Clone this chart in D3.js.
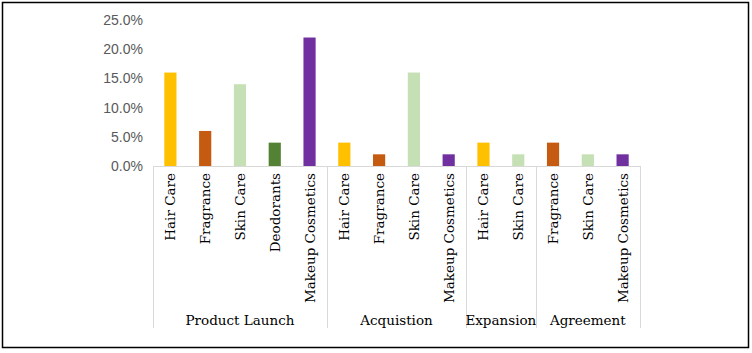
<!DOCTYPE html>
<html>
<head>
<meta charset="utf-8">
<script src="https://cdn.jsdelivr.net/npm/d3@7"></script>
<style>
  html, body { margin: 0; padding: 0; background: #fff; }
  #chart { width: 752px; height: 353px; }
</style>
</head>
<body>
<div id="chart"></div>
<script>
const groups = ["Product Launch", "Acquistion", "Expansion", "Agreement"];
const groupCategories = [
  ["Hair Care", "Fragrance", "Skin Care", "Deodorants", "Makeup Cosmetics"],
  ["Hair Care", "Fragrance", "Skin Care", "Makeup Cosmetics"],
  ["Hair Care", "Skin Care"],
  ["Fragrance", "Skin Care", "Makeup Cosmetics"]
];
const groupValues = [
  [0.16, 0.06, 0.14, 0.04, 0.22],
  [0.04, 0.02, 0.16, 0.02],
  [0.04, 0.02],
  [0.04, 0.02, 0.02]
];
const yTicks = [0, 0.05, 0.10, 0.15, 0.20, 0.25];

const categoryColors = {
  "Hair Care": "#FFC000",
  "Fragrance": "#C55A11",
  "Skin Care": "#C5E0B4",
  "Deodorants": "#548235",
  "Makeup Cosmetics": "#7030A0"
};

function draw() {
  const W = 752, H = 353;
  const svg = d3.select("#chart").append("svg")
    .attr("width", W).attr("height", H);

  // outer frame
  svg.append("rect")
    .attr("x", 2.5).attr("y", 2.5)
    .attr("width", 746).attr("height", 345)
    .attr("fill", "none").attr("stroke", "#000").attr("stroke-width", 1.5);

  // flatten into rows
  const rows = [];
  groups.forEach((g, gi) => {
    groupCategories[gi].forEach((c, ci) => {
      rows.push({ key: g + "|" + c, group: g, gi, cat: c, value: groupValues[gi][ci] });
    });
  });

  const x = d3.scaleBand()
    .domain(rows.map(d => d.key))
    .range([153, 640])
    .paddingInner(0.65)
    .paddingOuter(0.325);

  const y = d3.scaleLinear().domain([0, 0.25]).range([166, 20]);

  const fmt = d3.format(".1%");
  const axisBottom = 166, axisEnd = 328;

  // y labels
  svg.append("g").selectAll("text")
    .data(yTicks)
    .join("text")
    .attr("x", 143)
    .attr("y", d => y(d))
    .attr("dy", "0.35em")
    .attr("text-anchor", "end")
    .style("font-family", "Liberation Sans, Arial, sans-serif")
    .style("font-size", "14px")
    .attr("fill", "#595959")
    .text(d => fmt(d));

  // bars
  svg.append("g").selectAll("rect")
    .data(rows)
    .join("rect")
    .attr("x", d => x(d.key))
    .attr("width", x.bandwidth())
    .attr("y", d => y(d.value))
    .attr("height", d => y(0) - y(d.value))
    .attr("fill", d => categoryColors[d.cat]);

  // category axis line
  const step = x.step();
  const x0 = x.range()[0];
  svg.append("line")
    .attr("x1", x0).attr("x2", x.range()[1])
    .attr("y1", axisBottom + 0.5).attr("y2", axisBottom + 0.5)
    .attr("stroke", "#D9D9D9").attr("stroke-width", 1);

  // group separators
  const bounds = [0];
  let acc = 0;
  groupCategories.forEach(c => { acc += c.length; bounds.push(acc); });
  svg.append("g").selectAll("line")
    .data(bounds)
    .join("line")
    .attr("x1", d => Math.round(x0 + d * step) + 0.5)
    .attr("x2", d => Math.round(x0 + d * step) + 0.5)
    .attr("y1", axisBottom)
    .attr("y2", axisEnd)
    .attr("stroke", "#D9D9D9").attr("stroke-width", 1);

  // category labels (rotated)
  svg.append("g").selectAll("text")
    .data(rows)
    .join("text")
    .attr("transform", d => `translate(${x(d.key) + x.bandwidth() / 2 + 5},${axisBottom + 7}) rotate(-90)`)
    .attr("text-anchor", "end")
    .style("font-family", "DejaVu Serif, serif")
    .style("font-size", "13.5px")
    .attr("fill", "#000")
    .text(d => d.cat);

  // group labels
  svg.append("g").selectAll("text")
    .data(groups)
    .join("text")
    .attr("x", (d, i) => x0 + (bounds[i] + bounds[i + 1]) / 2 * step)
    .attr("y", 325)
    .attr("text-anchor", "middle")
    .style("font-family", "DejaVu Serif, serif")
    .style("font-size", "13.5px")
    .attr("fill", "#000")
    .text(d => d);
}

draw();
</script>
</body>
</html>
